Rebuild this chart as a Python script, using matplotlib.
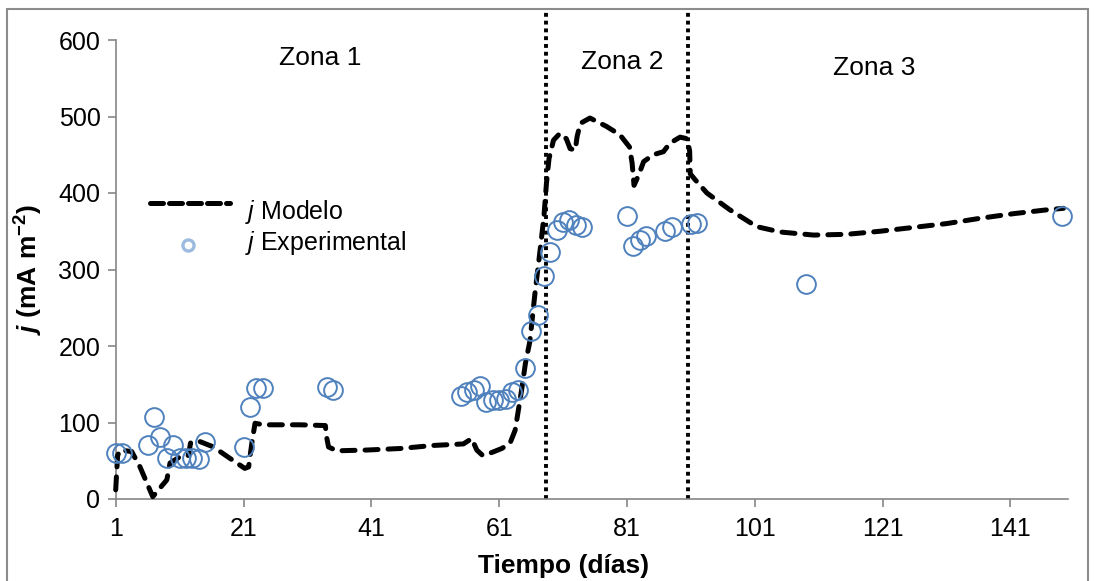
import matplotlib.pyplot as plt
from matplotlib.lines import Line2D
from matplotlib.patches import Rectangle

plt.rcParams['font.family'] = ['Liberation Sans', 'DejaVu Sans']
plt.rcParams['mathtext.fontset'] = 'custom'
plt.rcParams['mathtext.rm'] = 'Liberation Sans'
plt.rcParams['mathtext.it'] = 'Liberation Sans:italic'
plt.rcParams['mathtext.bf'] = 'Liberation Sans:bold'
plt.rcParams['mathtext.bfit'] = 'Liberation Sans:bold:italic'

# modelled current density (day, mA m-2)
model_day = [1, 1.3, 1.7, 3.5, 4.8, 6.8, 7.7, 9, 9.5, 11, 12.4, 12.7, 13, 14.2,
             16.3, 18.9, 21.2, 21.8, 22.3, 22.8, 24.1, 29.8, 33.8, 34, 34.3,
             35.6, 40.3, 45.5, 50.7, 55.4, 56.7, 57.5, 58.4, 59.6, 61.4, 62.7,
             63.5, 64, 64.5, 65.1, 65.8, 66.6, 67.4, 68, 68.4, 68.8, 69.5,
             70.5, 71.5, 72.1, 72.9, 73.2, 73.7, 75.2, 77.8, 79.9, 81.4, 81.8,
             82.1, 82.8, 83.6, 85.1, 86.7, 87.7, 89.3, 90.4, 90.8, 90.9, 91.7,
             93.5, 97.1, 101.3, 105, 110.2, 115.4, 120.6, 125.8, 131, 136.3,
             141.5, 146.7, 149.3]
model_val = [12, 57, 64, 62, 42, 3, 12, 25, 47, 55, 57, 73, 75, 75,
             68, 53, 40, 42, 73, 99, 97, 97, 96, 81, 68,
             63, 64, 66, 70, 72, 79, 64, 57, 60, 66, 73,
             90, 116, 142, 177, 206, 269, 325, 369, 413, 445, 469,
             478, 471, 458, 456, 474, 491, 498, 487, 476, 460, 439,
             410, 423, 441, 450, 454, 465, 473, 471, 455, 425, 417,
             400, 378, 356, 349, 345, 346, 350, 355, 360, 367,
             373, 378, 380]

# measured current density
exp_day = [1, 2, 6, 7, 8, 9, 10, 11, 12, 13, 14, 15, 21, 22, 23, 24, 34, 35,
           55, 56, 57, 58, 59, 60, 61, 62, 63, 64, 65, 66, 67, 68, 69, 70, 71,
           72, 73, 74, 81, 82, 83, 84, 87, 88, 91, 92, 109, 149]
exp_val = [60, 60, 71, 107, 81, 53, 71, 53, 53, 53, 52, 74, 68, 120, 145, 145,
           146, 142, 134, 140, 143, 148, 127, 129, 129, 131, 140, 142, 171, 220,
           240, 291, 323, 351, 362, 365, 358, 356, 370, 331, 338, 344, 350, 356,
           360, 361, 281, 370]

zone_limits = [68.3, 90.6]
zone_names = ['Zona 1', 'Zona 2', 'Zona 3']
x_ticks = [1, 21, 41, 61, 81, 101, 121, 141]
y_ticks = [0, 100, 200, 300, 400, 500, 600]

W, H = 1095, 581
fig = plt.figure(figsize=(W / 100, H / 100), dpi=100)
ax = fig.add_axes([115.7 / W, 1 - 499 / H, (1068 - 115.7) / W, 459 / H])

grey = '#868686'
blue = '#4F81BD'

ax.plot(model_day, model_val, color='black', lw=3.6, dashes=(2.6, 2.0),
        dash_capstyle='round', zorder=3, clip_on=False)
ax.plot(exp_day, exp_val, ls='none', marker='o', ms=13.5, mfc='none',
        mec=blue, mew=1.4, zorder=4, clip_on=False)

# zone separators run up past the plot area
for xz in zone_limits:
    ax.plot([xz, xz], [0, 639], color='black', lw=2.8, dashes=(1, 1),
            clip_on=False, zorder=2)

ax.set_xlim(1, 150)
ax.set_ylim(0, 600)
ax.set_xticks(x_ticks)
ax.set_yticks(y_ticks)
for s in ['top', 'right']:
    ax.spines[s].set_visible(False)
for s in ['left', 'bottom']:
    ax.spines[s].set_color(grey)
    ax.spines[s].set_linewidth(1.2)
ax.tick_params(colors=grey, labelcolor='black', labelsize=18, length=6,
               width=1.2)
ax.tick_params(axis='y', pad=5)
ax.tick_params(axis='x', pad=7)

ax.set_xlabel('Tiempo (días)', fontsize=19, fontweight='bold')
ax.xaxis.set_label_coords(0.47, -0.12)
ax.set_ylabel(r'$\mathbfit{j}\ \mathbf{(mA\ m^{-2})}$', fontsize=19)
ax.yaxis.set_label_coords(-0.074, 0.5)

zone_pos = [(0.2145, 0.961), (0.5316, 0.952), (0.797, 0.939)]
for name, (zx, zy) in zip(zone_names, zone_pos):
    ax.text(zx, zy, name, transform=ax.transAxes, fontsize=19,
            ha='center', va='center')

# legend drawn by hand
fig.add_artist(Line2D([150 / W, 230 / W], [1 - 203 / H, 1 - 203 / H],
                      color='black', lw=3.6, dashes=(2.6, 1.2),
                      dash_capstyle='round'))
fig.add_artist(Line2D([188 / W], [1 - 245 / H], ls='none', marker='o', ms=8,
                      mfc='none', mec='#9dbbe0', mew=2.4))
fig.text(245 / W, 1 - 212 / H, r'$j$ Modelo', fontsize=18, va='center')
fig.text(245 / W, 1 - 243 / H, r'$j$ Experimental', fontsize=18, va='center')

fig.add_artist(Rectangle((7 / W, -0.05), (1088 - 7) / W, 1.05 - 9 / H,
                         fill=False, ec='#8c8c8c', lw=1.5))

fig.savefig('out.png', dpi=100)
